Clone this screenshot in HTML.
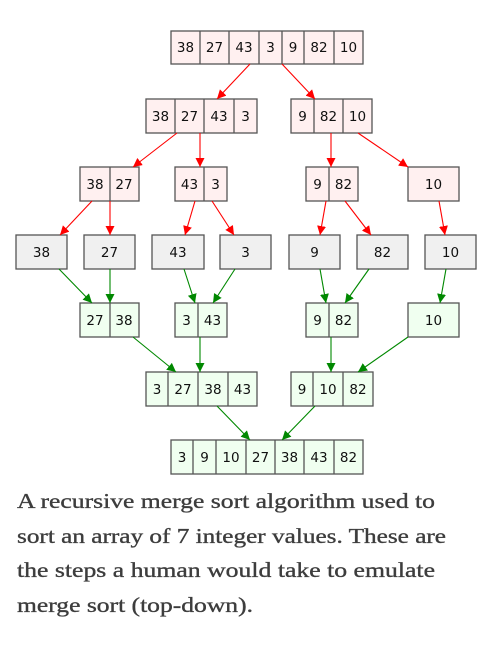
<!DOCTYPE html>
<html><head><meta charset="utf-8"><style>
html,body{margin:0;padding:0;background:#fff;}
svg{display:block}
.r rect{fill:#fff0f0}.g rect{fill:#f0fff0}.n rect{fill:#f0f0f0}
rect{stroke:#555;stroke-width:1.3}
line.d{stroke:#555;stroke-width:1.3}
text.v{font-family:"DejaVu Sans",sans-serif;font-size:13.5px;fill:#111;text-anchor:middle}
.er{stroke:#f00;stroke-width:1.1}
.eg{stroke:#080;stroke-width:1.1}
.cap{font-family:"Liberation Serif",serif;font-size:21px;fill:#3d3d3d;stroke:#3d3d3d;stroke-width:0.35}
</style></head><body>
<svg width="499" height="647" viewBox="0 0 499 647" xmlns="http://www.w3.org/2000/svg">
<defs>
<marker id="ar" viewBox="0 0 10 10" refX="10" refY="5" markerWidth="9" markerHeight="9" markerUnits="userSpaceOnUse" orient="auto"><path d="M0,0L10,5L0,10z" fill="#f00"/></marker>
<marker id="ag" viewBox="0 0 10 10" refX="10" refY="5" markerWidth="9" markerHeight="9" markerUnits="userSpaceOnUse" orient="auto"><path d="M0,0L10,5L0,10z" fill="#080"/></marker>
</defs>
<g class="r"><rect x="171" y="31" width="192" height="33"/>
<line class="d" x1="200" y1="31" x2="200" y2="64"/><line class="d" x1="229" y1="31" x2="229" y2="64"/><line class="d" x1="259" y1="31" x2="259" y2="64"/><line class="d" x1="282" y1="31" x2="282" y2="64"/><line class="d" x1="304" y1="31" x2="304" y2="64"/><line class="d" x1="334" y1="31" x2="334" y2="64"/>
<text class="v" x="185.5" y="52">38</text><text class="v" x="214.5" y="52">27</text><text class="v" x="244" y="52">43</text><text class="v" x="270.5" y="52">3</text><text class="v" x="293" y="52">9</text><text class="v" x="319" y="52">82</text><text class="v" x="348.5" y="52">10</text></g>
<g class="r"><rect x="146" y="99" width="111" height="34"/>
<line class="d" x1="175" y1="99" x2="175" y2="133"/><line class="d" x1="204" y1="99" x2="204" y2="133"/><line class="d" x1="234" y1="99" x2="234" y2="133"/>
<text class="v" x="160.5" y="121">38</text><text class="v" x="189.5" y="121">27</text><text class="v" x="219" y="121">43</text><text class="v" x="245.5" y="121">3</text>
<rect x="291" y="99" width="81" height="34"/>
<line class="d" x1="314" y1="99" x2="314" y2="133"/><line class="d" x1="343" y1="99" x2="343" y2="133"/>
<text class="v" x="302.5" y="121">9</text><text class="v" x="328.5" y="121">82</text><text class="v" x="357.5" y="121">10</text></g>
<g class="r"><rect x="80" y="167" width="59" height="34"/><line class="d" x1="110" y1="167" x2="110" y2="201"/>
<text class="v" x="95" y="189">38</text><text class="v" x="124" y="189">27</text>
<rect x="175" y="167" width="52" height="34"/><line class="d" x1="204" y1="167" x2="204" y2="201"/>
<text class="v" x="189.5" y="189">43</text><text class="v" x="215.5" y="189">3</text>
<rect x="306" y="167" width="52" height="34"/><line class="d" x1="329" y1="167" x2="329" y2="201"/>
<text class="v" x="317.5" y="189">9</text><text class="v" x="343.5" y="189">82</text>
<rect x="408" y="167" width="51" height="34"/><text class="v" x="433.5" y="189">10</text></g>
<g class="n">
<rect x="16" y="235" width="51" height="34"/><text class="v" x="41.5" y="257">38</text>
<rect x="84" y="235" width="51" height="34"/><text class="v" x="109.5" y="257">27</text>
<rect x="152" y="235" width="52" height="34"/><text class="v" x="178" y="257">43</text>
<rect x="220" y="235" width="51" height="34"/><text class="v" x="245.5" y="257">3</text>
<rect x="289" y="235" width="51" height="34"/><text class="v" x="314.5" y="257">9</text>
<rect x="357" y="235" width="51" height="34"/><text class="v" x="382.5" y="257">82</text>
<rect x="425" y="235" width="51" height="34"/><text class="v" x="450.5" y="257">10</text></g>
<g class="g"><rect x="80" y="303" width="59" height="34"/><line class="d" x1="110" y1="303" x2="110" y2="337"/>
<text class="v" x="95" y="325">27</text><text class="v" x="124" y="325">38</text>
<rect x="175" y="303" width="52" height="34"/><line class="d" x1="198" y1="303" x2="198" y2="337"/>
<text class="v" x="186.5" y="325">3</text><text class="v" x="212.5" y="325">43</text>
<rect x="306" y="303" width="52" height="34"/><line class="d" x1="329" y1="303" x2="329" y2="337"/>
<text class="v" x="317.5" y="325">9</text><text class="v" x="343.5" y="325">82</text>
<rect x="408" y="303" width="51" height="34"/><text class="v" x="433.5" y="325">10</text></g>
<g class="g"><rect x="146" y="372" width="111" height="34"/>
<line class="d" x1="168" y1="372" x2="168" y2="406"/><line class="d" x1="198" y1="372" x2="198" y2="406"/><line class="d" x1="228" y1="372" x2="228" y2="406"/>
<text class="v" x="157" y="394">3</text><text class="v" x="183" y="394">27</text><text class="v" x="213" y="394">38</text><text class="v" x="242.5" y="394">43</text>
<rect x="291" y="372" width="82" height="34"/>
<line class="d" x1="313" y1="372" x2="313" y2="406"/><line class="d" x1="343" y1="372" x2="343" y2="406"/>
<text class="v" x="302" y="394">9</text><text class="v" x="328" y="394">10</text><text class="v" x="358" y="394">82</text></g>
<g class="g"><rect x="171" y="440" width="192" height="34"/>
<line class="d" x1="193" y1="440" x2="193" y2="474"/><line class="d" x1="216" y1="440" x2="216" y2="474"/><line class="d" x1="246" y1="440" x2="246" y2="474"/><line class="d" x1="275" y1="440" x2="275" y2="474"/><line class="d" x1="304" y1="440" x2="304" y2="474"/><line class="d" x1="334" y1="440" x2="334" y2="474"/>
<text class="v" x="182" y="462">3</text><text class="v" x="204.5" y="462">9</text><text class="v" x="231" y="462">10</text><text class="v" x="260.5" y="462">27</text><text class="v" x="289.5" y="462">38</text><text class="v" x="319" y="462">43</text><text class="v" x="348.5" y="462">82</text></g>
<g marker-end="url(#ar)">
<line class="er" x1="250" y1="64" x2="217" y2="99"/>
<line class="er" x1="282" y1="64" x2="315" y2="99"/>
<line class="er" x1="177" y1="133" x2="133" y2="167"/>
<line class="er" x1="200" y1="133" x2="200" y2="167"/>
<line class="er" x1="331" y1="133" x2="331" y2="167"/>
<line class="er" x1="358" y1="133" x2="408" y2="167"/>
<line class="er" x1="92" y1="201" x2="60" y2="235"/>
<line class="er" x1="110" y1="201" x2="110" y2="235"/>
<line class="er" x1="195" y1="201" x2="185" y2="235"/>
<line class="er" x1="212" y1="201" x2="234" y2="235"/>
<line class="er" x1="326" y1="201" x2="320" y2="235"/>
<line class="er" x1="345" y1="201" x2="371" y2="235"/>
<line class="er" x1="439" y1="201" x2="445" y2="235"/>
</g>
<g marker-end="url(#ag)">
<line class="eg" x1="59" y1="269" x2="92" y2="303"/>
<line class="eg" x1="110" y1="269" x2="110" y2="303"/>
<line class="eg" x1="184" y1="269" x2="195" y2="303"/>
<line class="eg" x1="235" y1="269" x2="213" y2="303"/>
<line class="eg" x1="320" y1="269" x2="326" y2="303"/>
<line class="eg" x1="369" y1="269" x2="345" y2="303"/>
<line class="eg" x1="446" y1="269" x2="440" y2="303"/>
<line class="eg" x1="133" y1="337" x2="176" y2="372"/>
<line class="eg" x1="200" y1="337" x2="200" y2="372"/>
<line class="eg" x1="331" y1="337" x2="331" y2="372"/>
<line class="eg" x1="408" y1="337" x2="358" y2="372"/>
<line class="eg" x1="217" y1="406" x2="250" y2="440"/>
<line class="eg" x1="315" y1="406" x2="282" y2="440"/>
</g>
<text class="cap" x="17" y="508" textLength="418" lengthAdjust="spacingAndGlyphs">A recursive merge sort algorithm used to</text>
<text class="cap" x="17" y="543" textLength="429" lengthAdjust="spacingAndGlyphs">sort an array of 7 integer values. These are</text>
<text class="cap" x="17" y="577" textLength="418" lengthAdjust="spacingAndGlyphs">the steps a human would take to emulate</text>
<text class="cap" x="17" y="612" textLength="236" lengthAdjust="spacingAndGlyphs">merge sort (top-down).</text>
</svg>
</body></html>
